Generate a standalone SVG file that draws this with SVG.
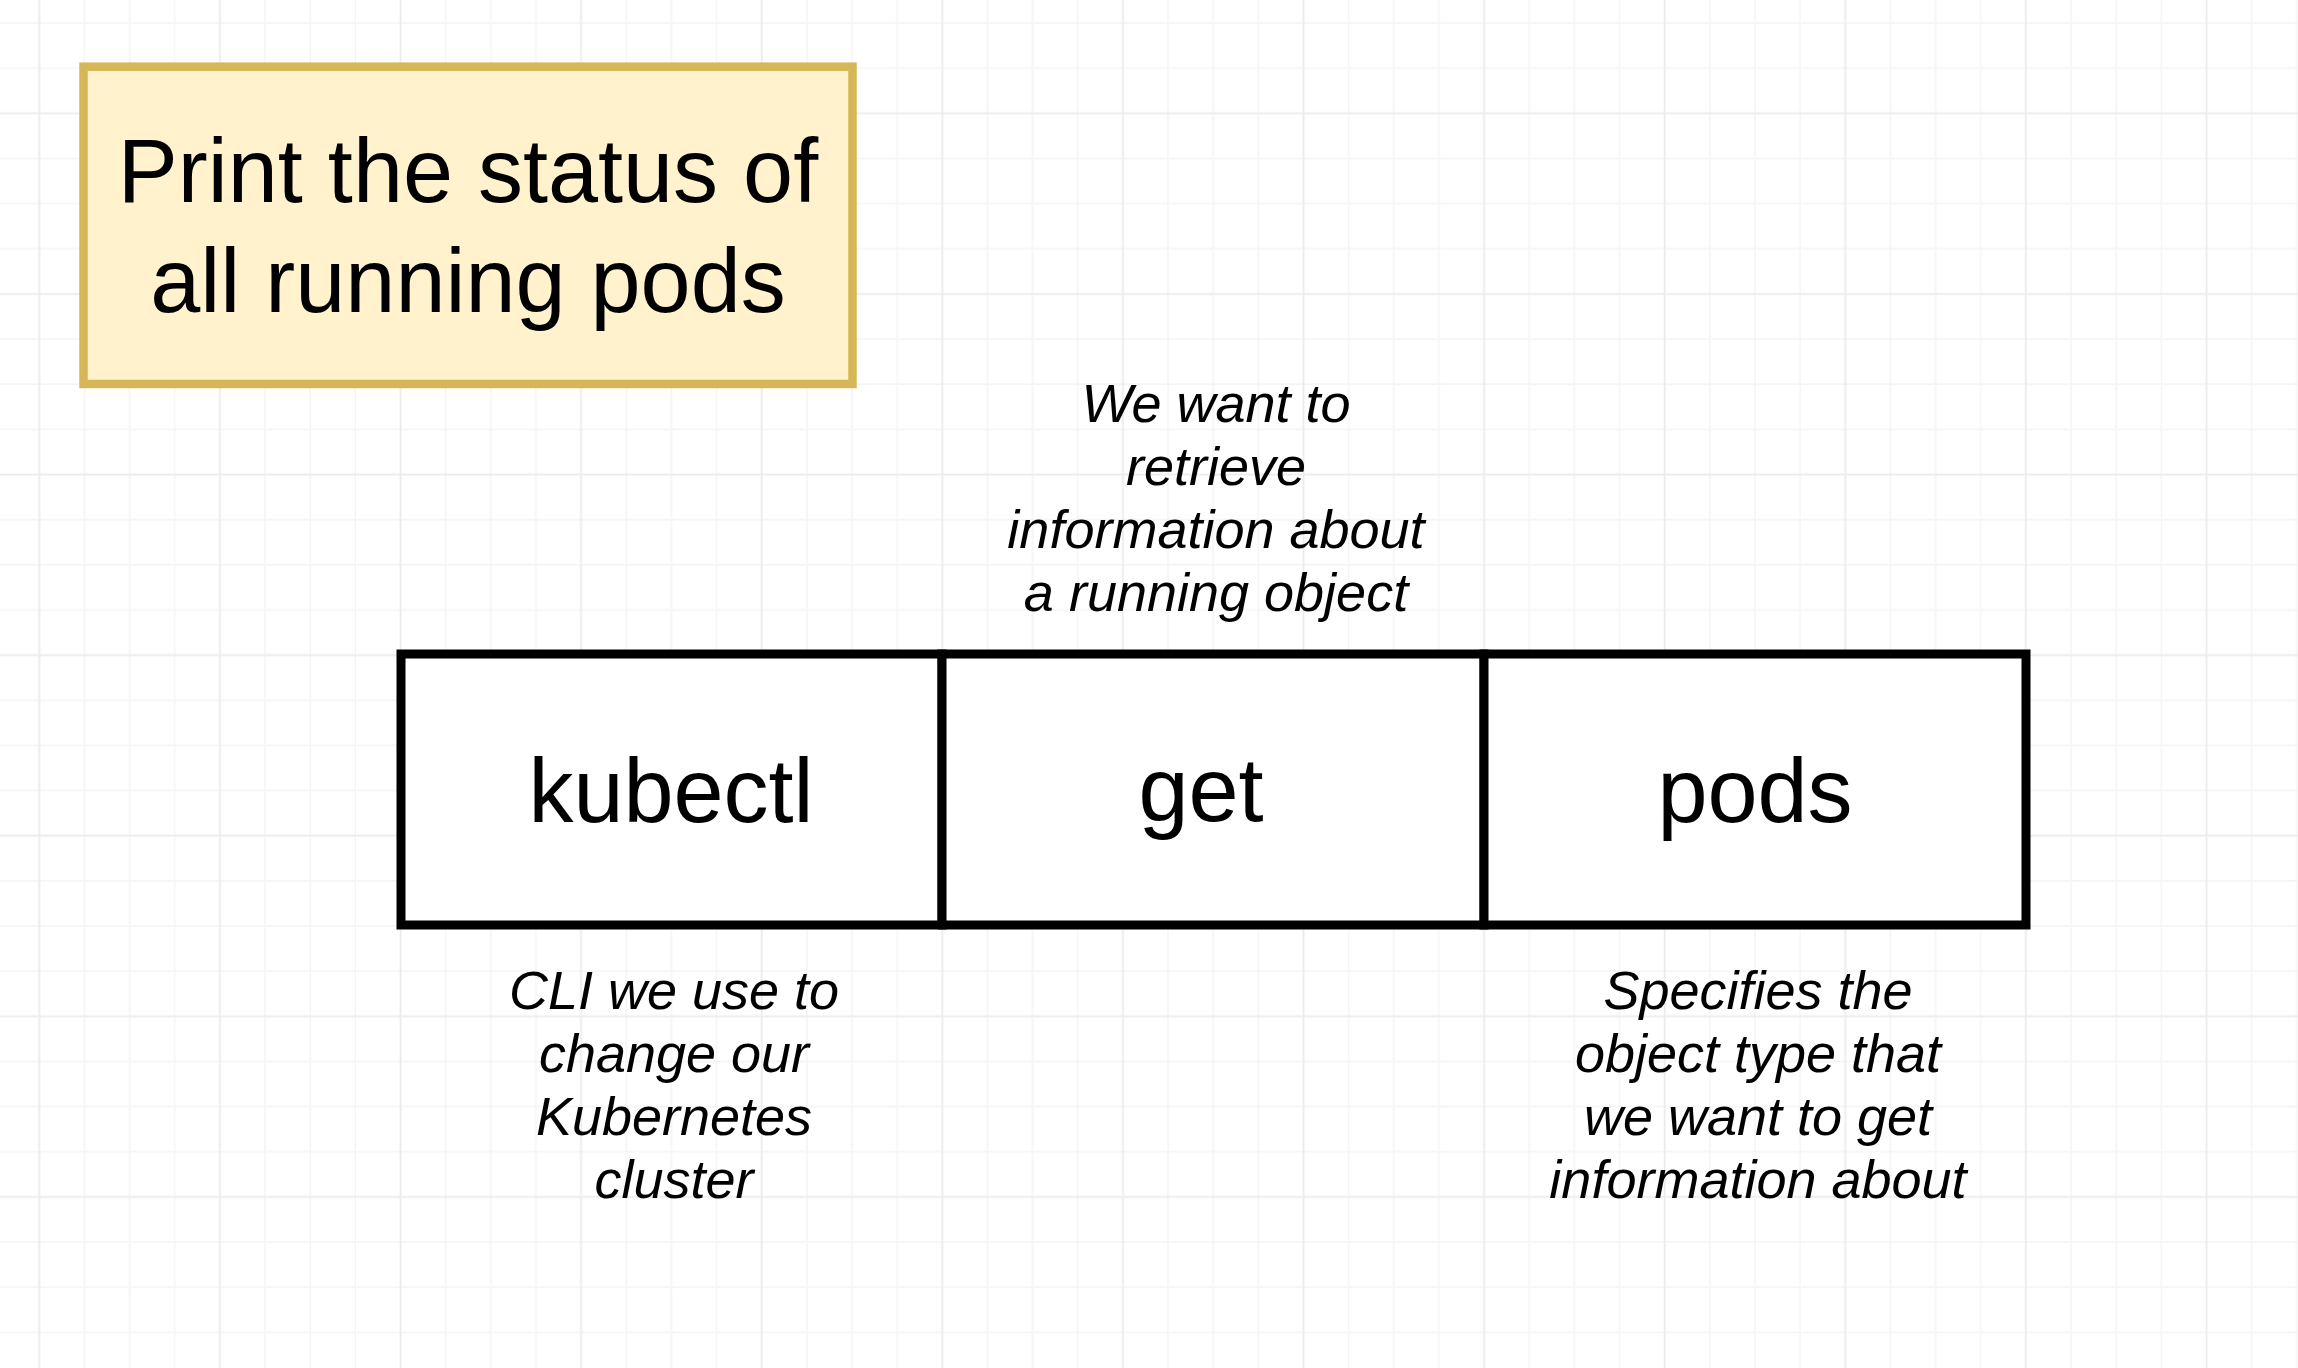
<svg xmlns="http://www.w3.org/2000/svg" width="2298" height="1368" viewBox="0 0 2298 1368">
  <defs>
    <pattern id="grid" patternUnits="userSpaceOnUse" x="16.725" y="90.725" width="180.6" height="180.6">
      <g stroke="#f5f5f5" stroke-width="1.6" fill="none">
        <line x1="67.725" y1="0" x2="67.725" y2="180.6"/>
        <line x1="112.875" y1="0" x2="112.875" y2="180.6"/>
        <line x1="158.025" y1="0" x2="158.025" y2="180.6"/>
        <line x1="0" y1="67.725" x2="180.6" y2="67.725"/>
        <line x1="0" y1="112.875" x2="180.6" y2="112.875"/>
        <line x1="0" y1="158.025" x2="180.6" y2="158.025"/>
      </g>
      <g stroke="#ebebeb" stroke-width="1.8" fill="none">
        <line x1="22.575" y1="0" x2="22.575" y2="180.6"/>
        <line x1="0" y1="22.575" x2="180.6" y2="22.575"/>
      </g>
    </pattern>
    <style>
      .title { font-family: "Liberation Sans", Arial, Helvetica, sans-serif; font-size: 90px; fill: #000000; text-anchor: middle; }
      .cmd { font-family: "Liberation Sans", Arial, Helvetica, sans-serif; font-size: 90px; fill: #000000; text-anchor: middle; }
      .note { font-family: "Liberation Sans", Arial, Helvetica, sans-serif; font-size: 54px; font-style: italic; fill: #000000; text-anchor: middle; }
      .cell { fill: #ffffff; stroke: #000000; stroke-width: 9; }
    </style>
  </defs>

  <rect x="0" y="0" width="2298" height="1368" fill="#ffffff"/>
  <rect x="0" y="0" width="2298" height="1368" fill="url(#grid)"/>

  <g id="title-node">
    <rect x="83.5" y="66.7" width="769" height="317.3" fill="#fff2cc" stroke="#d6b656" stroke-width="8.5"/>
    <text class="title" x="468" y="202">Print the status of</text>
    <text class="title" x="468" y="312">all running pods</text>
  </g>

  <g id="connectors"></g>

  <g id="cell-kubectl">
    <rect class="cell" x="401" y="654" width="541" height="271"/>
    <text class="cmd" x="671" y="822">kubectl</text>
  </g>

  <g id="cell-get">
    <rect class="cell" x="942" y="654" width="542" height="271"/>
    <text class="cmd" x="1201" y="821">get</text>
  </g>

  <g id="cell-pods">
    <rect class="cell" x="1484" y="654" width="542" height="271"/>
    <text class="cmd" x="1755" y="822">pods</text>
  </g>

  <g id="note-get">
    <text class="note" x="1216" y="422">We want to</text>
    <text class="note" x="1216" y="485">retrieve</text>
    <text class="note" x="1216" y="548">information about</text>
    <text class="note" x="1216" y="611">a running object</text>
  </g>

  <g id="note-kubectl">
    <text class="note" x="674" y="1009">CLI we use to</text>
    <text class="note" x="674" y="1072">change our</text>
    <text class="note" x="674" y="1135">Kubernetes</text>
    <text class="note" x="674" y="1198">cluster</text>
  </g>

  <g id="note-pods">
    <text class="note" x="1758" y="1009">Specifies the</text>
    <text class="note" x="1758" y="1072">object type that</text>
    <text class="note" x="1758" y="1135">we want to get</text>
    <text class="note" x="1758" y="1198">information about</text>
  </g>
</svg>
